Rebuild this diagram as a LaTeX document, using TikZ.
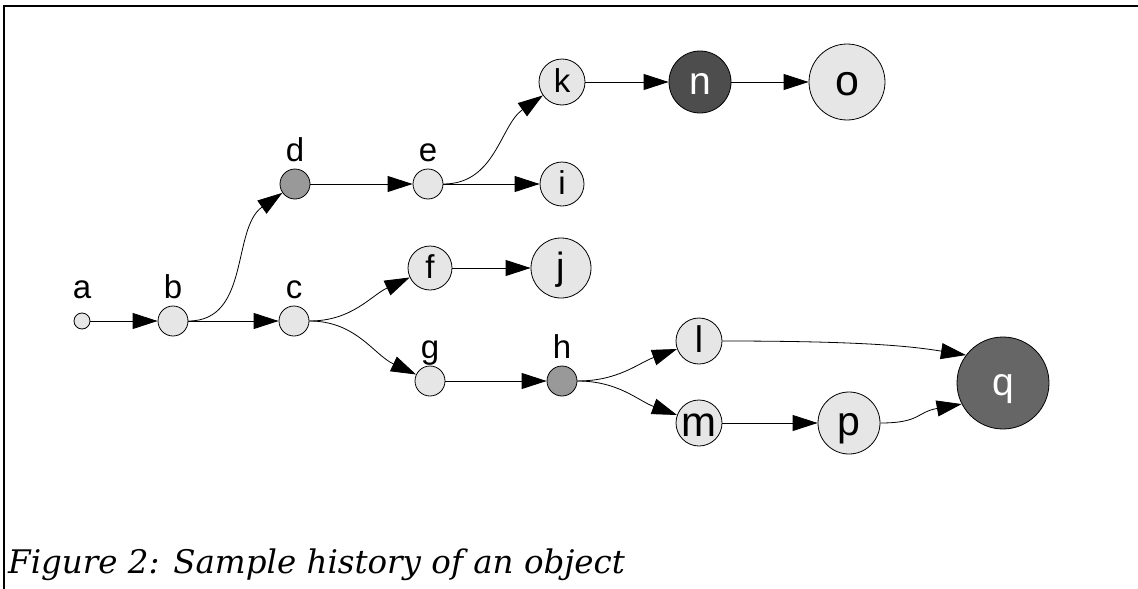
\documentclass[tikz,border=0pt]{standalone}
\usepackage{fontspec}
\setmainfont{DejaVu Serif}
\newfontfamily\nodefont{Liberation Sans}
\usetikzlibrary{arrows.meta}
\definecolor{litegray}{HTML}{E6E6E6}
\definecolor{midgray}{HTML}{999999}
\definecolor{darkgray}{HTML}{4D4D4D}
\definecolor{qgray}{HTML}{666666}
\newcommand\nodesize[1]{\nodefont\fontsize{#1}{#1}\selectfont}
\tikzset{
  dot/.style={circle, draw, line width=0.8pt, fill=litegray, inner sep=0pt},
  state/.style={dot, text height=#1pt*0.62, text depth=0pt, font=\nodesize{#1}},
  state/.default=32,
  lbl/.style={anchor=base, inner sep=0pt, font=\nodesize{33}},
  hist/.style={line width=0.8pt, -{Triangle[length=25pt,width=16pt]}}
}
\begin{document}
\begin{tikzpicture}[x=1pt, y=-1pt]
  \useasboundingbox (0,0) rectangle (1138,589);
  \draw[line width=1.5pt] (4,589) -- (4,6) -- (1138,6);

  % small nodes, named above
  \foreach \name/\x/\y/\r/\col in {
    a/82/321/8/litegray,   b/173/321/15/litegray, c/294/321/15/litegray,
    d/295/184/15/midgray,  e/428/184/15/litegray, g/430/381/15/litegray,
    h/562/381/15/midgray%
  }{
    \node[dot, fill=\col, minimum size=2*\r pt] (\name) at (\x,\y) {};
    \node[lbl] (\name-lbl) at (\x,\y-23) {\name};
  }

  % nodes with their name inside
  \foreach \name/\x/\y/\r/\fs in {
    f/430/268/22/33, i/562/184/22/33, j/561/268/30/38, k/562/82/23/33,
    o/847/82/38/43,  l/699/341/23/37, m/699/423/23/42, p/849/423/31/41%
  }{
    \node[state=\fs, minimum size=2*\r pt] (\name) at (\x,\y) {\name};
  }
  \node[state=39, fill=darkgray, text=white, minimum size=62pt] (n) at (700,82) {n};
  \node[state=39, fill=qgray, text=white, minimum size=92pt] (q) at (1003,383) {q};

  % history edges
  \draw[hist] (a) -- (b);
  \draw[hist] (b) -- (c);
  \draw[hist] (b.east) to[out=0, in=215] (d);
  \draw[hist] (d) -- (e);
  \draw[hist] (e) -- (i);
  \draw[hist] (e.east) to[out=0, in=215] (k);
  \draw[hist] (k) -- (n);
  \draw[hist] (n) -- (o);
  \draw[hist] (c.east) to[out=0, in=205] (f);
  \draw[hist] (c.east) to[out=0, in=155] (g);
  \draw[hist] (f) -- (j);
  \draw[hist] (g) -- (h);
  \draw[hist] (h.east) to[out=0, in=200] (l);
  \draw[hist] (h.east) to[out=0, in=160] (m);
  \draw[hist] (m) -- (p);
  \draw[hist] (l.east) .. controls +(150,0) and +(-50,-8) .. (q.143);
  \draw[hist] (p.east) .. controls +(40,0) and +(-45,8) .. (q.207);

  \node[anchor=base west, inner sep=0pt, font=\itshape\fontsize{32.5}{32.5}\selectfont] (caption) at (8,573)
    {Figure 2: Sample history of an object};
\end{tikzpicture}
\end{document}
